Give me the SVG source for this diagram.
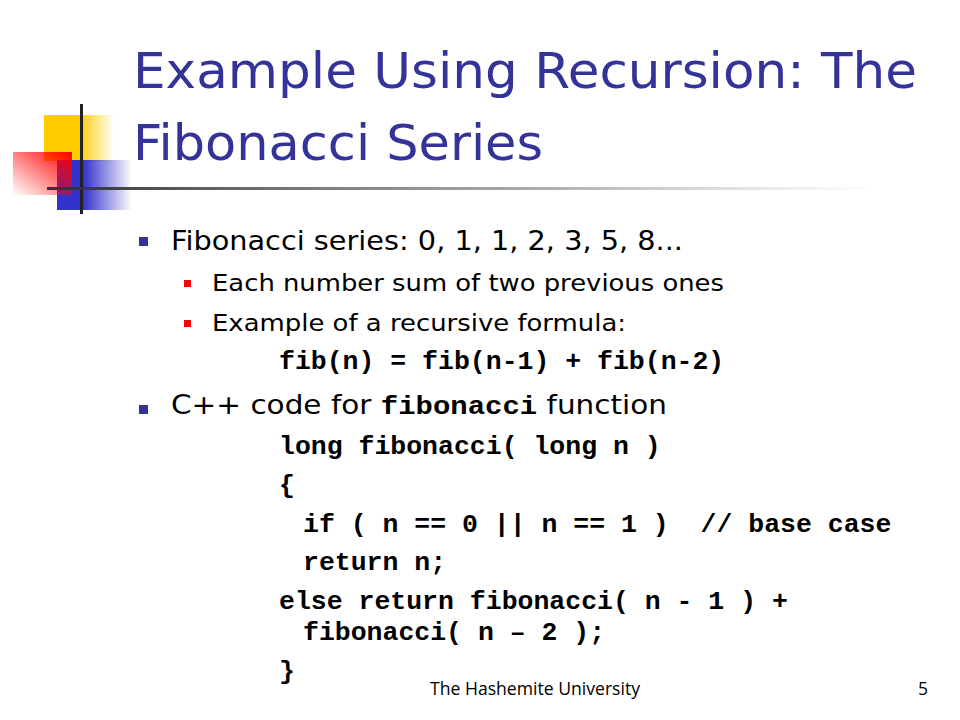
<svg xmlns="http://www.w3.org/2000/svg" width="960" height="720" viewBox="0 0 960 720">
<style>
.t{font-family:"DejaVu Sans","Liberation Sans",sans-serif;fill:#333399;font-size:50px}
.b1{font-family:"DejaVu Sans","Liberation Sans",sans-serif;font-size:27px;fill:#000}
.b2{font-family:"DejaVu Sans","Liberation Sans",sans-serif;font-size:23px;fill:#000}
.c{font-family:"Liberation Mono","Courier New",monospace;font-weight:bold;font-size:26.5px;fill:#000}
.f{font-family:"Open Sans","DejaVu Sans",sans-serif;font-size:17.6px;fill:#000}
</style>
<defs>
<linearGradient id="gy" x1="0" x2="1"><stop offset="0.5" stop-color="#FFCC00"/><stop offset="1" stop-color="#FFCC00" stop-opacity="0"/></linearGradient>
<linearGradient id="gb" x1="0" x2="1"><stop offset="0.35" stop-color="#3333CC"/><stop offset="1" stop-color="#3333CC" stop-opacity="0"/></linearGradient>
<linearGradient id="gr" x1="1" y1="0" x2="0" y2="1"><stop offset="0" stop-color="#FF0000"/><stop offset="1" stop-color="#FF0000" stop-opacity="0"/></linearGradient>
<linearGradient id="gl" x1="0" x2="1"><stop offset="0" stop-color="#333"/><stop offset="0.6" stop-color="#777" stop-opacity="0.6"/><stop offset="1" stop-color="#999" stop-opacity="0"/></linearGradient>
</defs>
<rect width="960" height="720" fill="#fff"/>
<rect x="44" y="115" width="70" height="46" fill="url(#gy)"/>
<rect x="57" y="160" width="75" height="50" fill="url(#gb)"/>
<rect x="13" y="152" width="59" height="43" fill="url(#gr)"/>
<rect x="80" y="104" width="3" height="110" fill="#222"/>
<rect x="47" y="187" width="830" height="3" fill="url(#gl)"/>
<text class="t" x="133" y="88" textLength="784" lengthAdjust="spacingAndGlyphs">Example Using Recursion: The</text>
<text class="t" x="133" y="160" textLength="410" lengthAdjust="spacingAndGlyphs">Fibonacci Series</text>
<rect x="139" y="237" width="9" height="9" fill="#333399"/>
<text class="b1" x="171" y="250" textLength="512" lengthAdjust="spacingAndGlyphs">Fibonacci series: 0, 1, 1, 2, 3, 5, 8...</text>
<rect x="184" y="280" width="7" height="7" fill="#FF0000"/>
<text class="b2" x="212" y="291" textLength="512" lengthAdjust="spacingAndGlyphs">Each number sum of two previous ones</text>
<rect x="184" y="320" width="7" height="7" fill="#FF0000"/>
<text class="b2" x="212" y="331" textLength="414" lengthAdjust="spacingAndGlyphs">Example of a recursive formula:</text>
<text class="c" x="279" y="369">fib(n) = fib(n-1) + fib(n-2)</text>
<rect x="139" y="405" width="9" height="9" fill="#333399"/>
<text class="b1" x="171" y="414" textLength="496" lengthAdjust="spacingAndGlyphs"><tspan>C++ code for </tspan><tspan class="c" font-size="31px">fibonacci</tspan><tspan> function</tspan></text>
<text class="c" x="279" y="454">long fibonacci( long n )</text>
<text class="c" x="279" y="493">{</text>
<text class="c" x="303" y="532" xml:space="preserve">if ( n == 0 || n == 1 )  // base case</text>
<text class="c" x="303" y="570">return n;</text>
<text class="c" x="279" y="609">else return fibonacci( n - 1 ) +</text>
<text class="c" x="303" y="640">fibonacci( n – 2 );</text>
<text class="c" x="279" y="679">}</text>
<text class="f" x="430" y="695">The Hashemite University</text>
<text class="f" x="918" y="695">5</text>
</svg>
